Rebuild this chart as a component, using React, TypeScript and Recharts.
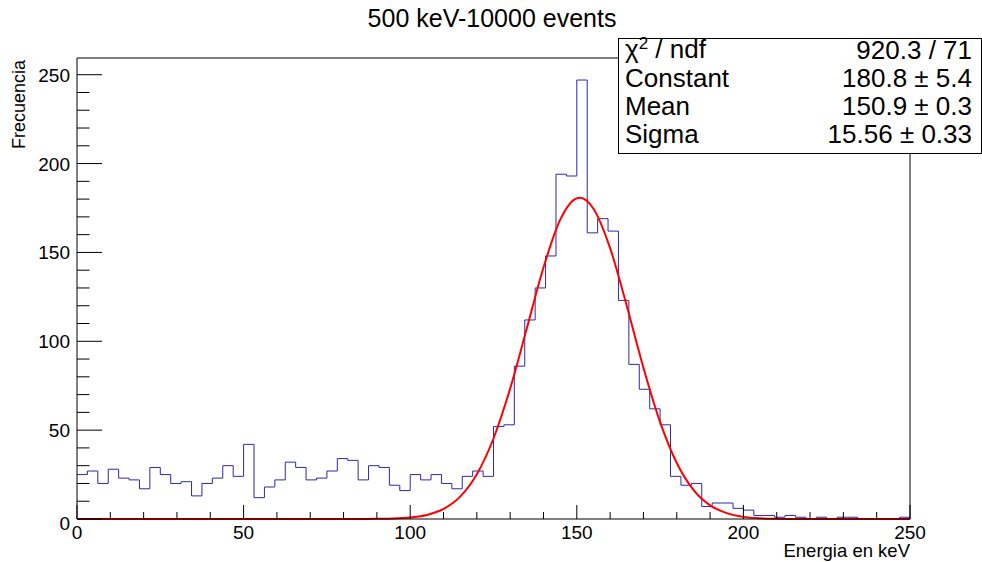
import { ComposedChart, Line, XAxis, YAxis, ReferenceLine } from 'recharts'

// histogram: 80 bins from 0 to 250 keV
const BIN_WIDTH = 3.125
const counts = [
    25, 27, 20, 28, 23, 22, 17, 29, 25, 20,
    21, 13, 20, 23, 30, 24, 42, 12, 18, 22,
    32, 29, 22, 23, 27, 34, 33, 22, 30, 29,
    19, 16, 25, 22, 25, 20, 17, 24, 27, 24,
    52, 53, 86, 112, 130, 148, 194, 193, 247, 161,
    169, 162, 123, 87, 73, 62, 53, 24, 19, 20,
    7, 9, 9, 6, 5, 2, 2, 1, 2, 1,
    0, 1, 0, 1, 1, 0, 0, 0, 0, 1,
]

// gaussian fit curve
const fitX = [0, 85, 90, 95, 100, 105, 110, 115, 120, 125, 130, 135, 140, 145, 150, 151, 155, 160, 165, 170, 175, 180, 185, 190, 195, 200, 205, 210, 215, 250]
const fitY = [0, 0, 0.1, 0.3, 0.9, 2.3, 5.7, 12.6, 25.2, 45.3, 73.4, 107.3, 141.5, 168.3, 180.5, 180.8, 174.6, 152.4, 119.9, 85.1, 54.5, 31.5, 16.4, 7.7, 3.3, 1.2, 0.4, 0.1, 0, 0]

const xTicks = [0, 10, 20, 30, 40, 50, 60, 70, 80, 90, 100, 110, 120, 130, 140, 150, 160, 170, 180, 190, 200, 210, 220, 230, 240, 250]
const yTicks = [0, 10, 20, 30, 40, 50, 60, 70, 80, 90, 100, 110, 120, 130, 140, 150, 160, 170, 180, 190, 200, 210, 220, 230, 240, 250]

const stats = [
    { name: 'Constant', value: '180.8 \u00b1 5.4' },
    { name: 'Mean', value: '150.9 \u00b1 0.3' },
    { name: 'Sigma', value: '15.56 \u00b1 0.33' },
]

const Y_MAX = 259.4
const FONT = '"Liberation Sans", Arial, Helvetica, sans-serif'

const histData = counts.map((c, i) => ({ x: i * BIN_WIDTH, y: c }))
histData.push({ x: counts.length * BIN_WIDTH, y: counts[counts.length - 1] })
const fitData = fitX.map((x, i) => ({ x, y: fitY[i] }))

function XTick(props: any) {
    const { x, y, payload } = props
    const major = payload.value % 50 === 0
    return (
        <g>
            <line x1={x} x2={x} y1={y} y2={y - (major ? 14 : 7)} stroke="#000" />
            {major && (
                <text x={x} y={y + 20} textAnchor="middle" fontSize={19} fontFamily={FONT} fill="#000">
                    {payload.value}
                </text>
            )}
        </g>
    )
}

function YTick(props: any) {
    const { x, y, payload } = props
    const major = payload.value % 50 === 0
    return (
        <g>
            <line x1={x} x2={x + (major ? 25 : 12.5)} y1={y} y2={y} stroke="#000" />
            {major && (
                <text x={x - 7} y={y + 7 + (payload.value === 0 ? 4 : 0)} textAnchor="end" fontSize={19} fontFamily={FONT} fill="#000">
                    {payload.value}
                </text>
            )}
        </g>
    )
}

export default function App() {
    return (
        <div style={{ position: 'absolute', left: 0, top: 0, width: 982, height: 562, background: '#fff' }}>
            <ComposedChart width={982} height={562} margin={{ top: 58, right: 72, bottom: 0, left: 0 }}>
                <XAxis
                    type="number"
                    dataKey="x"
                    domain={[0, 250]}
                    ticks={xTicks}
                    interval={0}
                    height={43}
                    tickSize={0}
                    tickMargin={0}
                    tickLine={false}
                    tick={<XTick />}
                    axisLine={{ stroke: '#000' }}
                />
                <YAxis
                    type="number"
                    domain={[0, Y_MAX]}
                    ticks={yTicks}
                    interval={0}
                    width={77}
                    tickSize={0}
                    tickMargin={0}
                    tickLine={false}
                    tick={<YTick />}
                    axisLine={{ stroke: '#000' }}
                />
                <ReferenceLine y={Y_MAX} stroke="#000" />
                <ReferenceLine x={250} stroke="#000" />
                <Line
                    data={histData}
                    dataKey="y"
                    type="stepAfter"
                    stroke="#2a2aaa"
                    strokeWidth={1}
                    dot={false}
                    activeDot={false}
                    isAnimationActive={false}
                />
                <Line
                    data={fitData}
                    dataKey="y"
                    type="monotone"
                    stroke="#ff0000"
                    strokeWidth={2}
                    dot={false}
                    activeDot={false}
                    isAnimationActive={false}
                />
            </ComposedChart>
            <svg width={982} height={562} style={{ position: 'absolute', left: 0, top: 0, pointerEvents: 'none' }} fontFamily={FONT}>
                <text x={492} y={27} textAnchor="middle" fontSize={25} fill="#000">500 keV-10000 events</text>
                <text x={25} y={60} transform="rotate(-90 25 60)" textAnchor="end" fontSize={18} fill="#000">Frecuencia</text>
                <text x={910} y={557} textAnchor="end" fontSize={18.5} fill="#000">Energia en keV</text>
                <rect x={618.5} y={38.5} width={363} height={115} fill="#fff" stroke="#000" />
                <text x={625} y={58} fontSize={26} fill="#000">
                    {'\u03c7'}
                    <tspan dy={-9} fontSize={17}>2</tspan>
                    <tspan dy={9}> / ndf</tspan>
                </text>
                <text x={972} y={59} textAnchor="end" fontSize={26} fill="#000">920.3 / 71</text>
                {stats.map((s, i) => (
                    <g key={s.name}>
                        <text x={625} y={87 + i * 28} fontSize={26} fill="#000">{s.name}</text>
                        <text x={972} y={87 + i * 28} textAnchor="end" fontSize={26} fill="#000">{s.value}</text>
                    </g>
                ))}
            </svg>
        </div>
    )
}
